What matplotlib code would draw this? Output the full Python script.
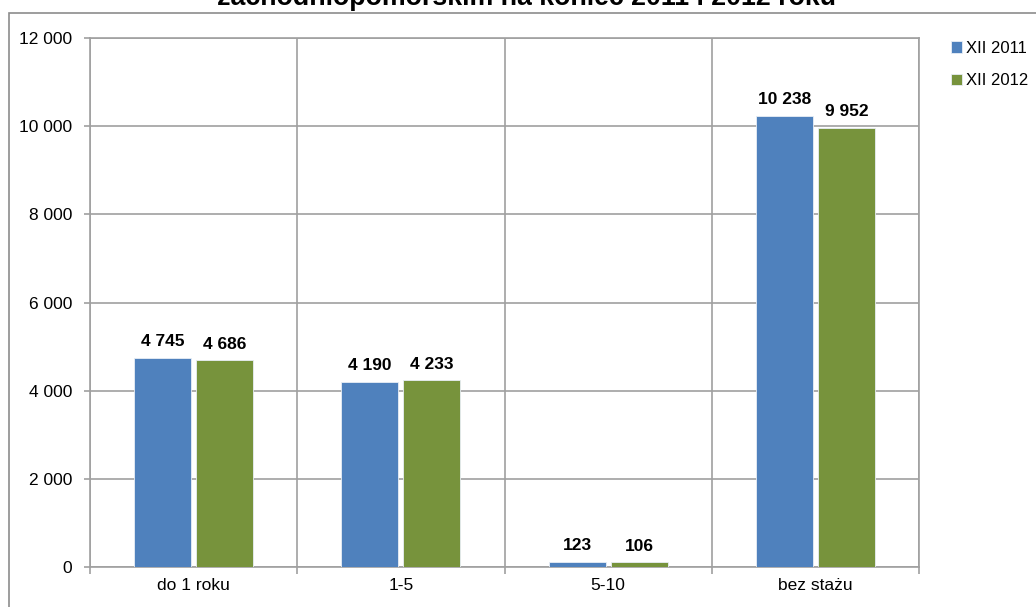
import numpy as np
import matplotlib
matplotlib.use("Agg")
import matplotlib.pyplot as plt
from matplotlib.patches import Rectangle
from matplotlib.ticker import FuncFormatter

plt.rcParams['font.family'] = ['Liberation Sans', 'DejaVu Sans']

categories = ['do 1 roku', '1-5', '5-10', 'bez stażu']
series_names = ['XII 2011', 'XII 2012']
xii_2011 = [4745, 4190, 123, 10238]
xii_2012 = [4686, 4233, 106, 9952]
title = 'zachodniopomorskim na koniec 2011 i 2012 roku'

colors = ['#4F81BD', '#77933C']
grid_c = '#A0A0A0'

W, H = 1036, 607
fig = plt.figure(figsize=(W / 100, H / 100), dpi=100)
ax = fig.add_axes([90 / W, 1 - 567 / H, (919 - 90) / W, (567 - 38) / H])

# outer chart border (runs off the right and bottom edges)
fig.patches.append(Rectangle((9 / W, -0.1), 1.2, 1 - 13 / H + 0.1,
                             transform=fig.transFigure, fill=False,
                             edgecolor='#8C8C8C', lw=1.2, zorder=0))

# title is cut by the top edge, as in the source image
fig.text(0.508, 1 - 5 / H, title, ha='center', va='baseline',
         fontsize=19.3, fontweight='bold')

fmt = lambda v: '{:,}'.format(int(v)).replace(',', ' ')

x = np.arange(len(categories))
w = 0.275
for vals, off, c, name in [(xii_2011, -0.15, colors[0], series_names[0]),
                           (xii_2012, 0.15, colors[1], series_names[1])]:
    bars = ax.bar(x + off, vals, width=w, color=c, edgecolor='#E8EEF5',
                  lw=0.6, label=name, zorder=3)
    for b, v in zip(bars, vals):
        ax.annotate(fmt(v), (b.get_x() + b.get_width() / 2, v),
                    xytext=(0, 8.5), textcoords='offset points',
                    ha='center', va='baseline', fontsize=12.5,
                    fontweight='bold', zorder=4)

ax.set_xlim(-0.5, 3.5)
ax.set_ylim(0, 12000)
ax.set_yticks(np.arange(0, 12001, 2000))
ax.yaxis.set_major_formatter(FuncFormatter(lambda v, p: fmt(v)))

# boundaries as major ticks, names on minor ticks
ax.set_xticks(np.arange(-0.5, 3.6, 1))
ax.set_xticklabels([])
ax.set_xticks(x, minor=True)
ax.set_xticklabels(categories, minor=True)
ax.tick_params(axis='x', which='minor', length=0, pad=8, labelsize=12.5)
ax.tick_params(axis='x', which='major', length=5, width=1.2, color=grid_c)
ax.tick_params(axis='y', length=4, width=1.2, color=grid_c, pad=9,
               labelsize=12.5)

ax.grid(True, which='major', color=grid_c, lw=1.2, zorder=0)
for s in ax.spines.values():
    s.set_color(grid_c)
    s.set_linewidth(1.2)

fig.legend(loc='upper left', bbox_to_anchor=(944 / W, 1 - 34 / H),
           frameon=False, fontsize=12, handlelength=0.7, handleheight=0.7,
           handletextpad=0.2, labelspacing=1.05, borderaxespad=0)

fig.savefig('out.png', dpi=100)
